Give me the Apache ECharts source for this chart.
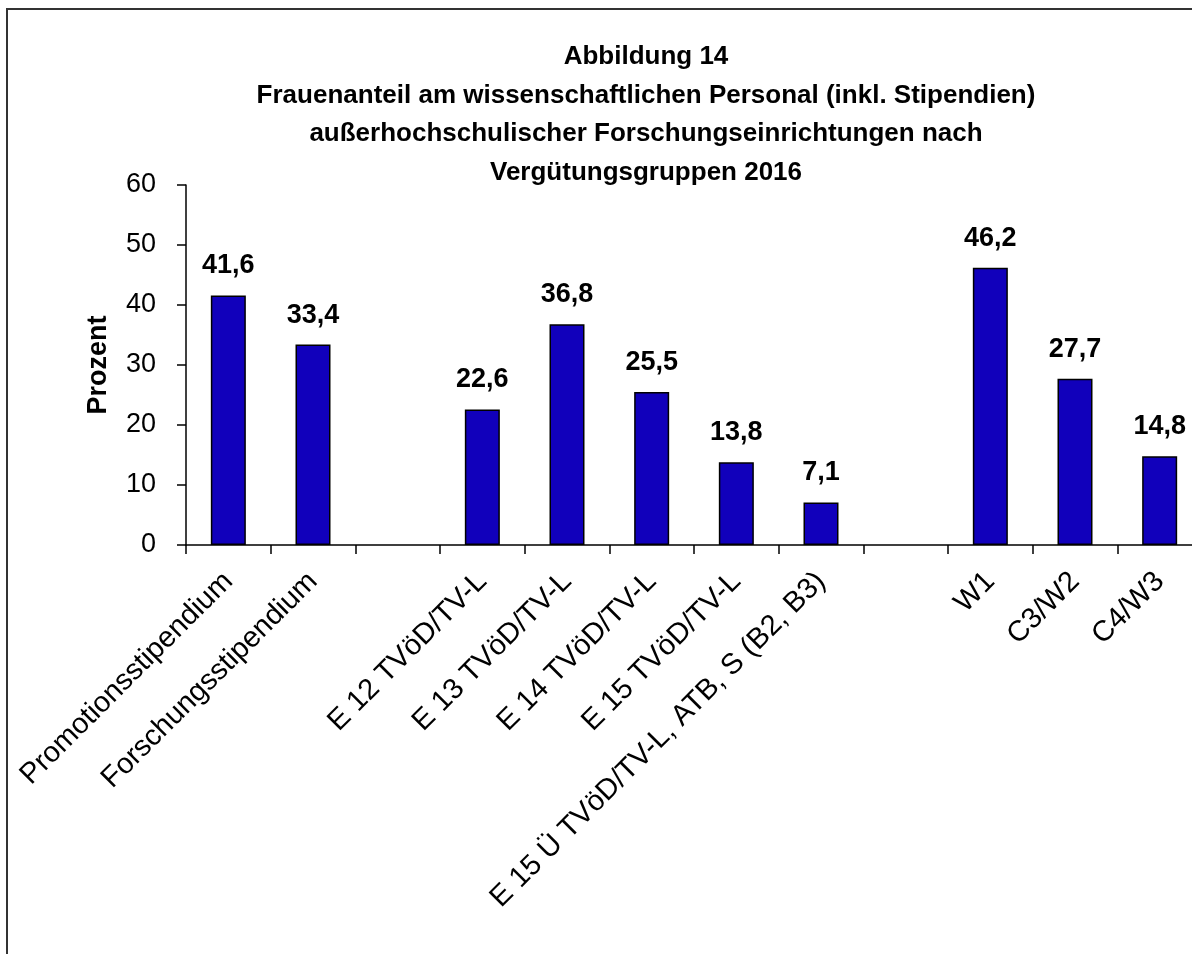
<!DOCTYPE html>
<html>
<head>
<meta charset="utf-8">
<script src="https://cdn.jsdelivr.net/npm/echarts@6/dist/echarts.min.js"></script>
<style>
  html, body { margin: 0; padding: 0; background: #fff; overflow: hidden; width: 1192px; height: 954px; }
  .frame {
    position: absolute;
    left: 6px;
    top: 8px;
    width: 1276px;
    height: 1000px;
    border: 2px solid #333;
    background: #fff;
  }
  .echarts { width: 100%; height: 100%; }
</style>
</head>
<body>
<div class="frame"><div id="chart" class="echarts"></div></div>
<script>
  // Kategorien (leere Einträge = Lücken zwischen den Gruppen)
  const categories = [
    'Promotionsstipendium',
    'Forschungsstipendium',
    '',
    'E 12 TVöD/TV-L',
    'E 13 TVöD/TV-L',
    'E 14 TVöD/TV-L',
    'E 15 TVöD/TV-L',
    'E 15 Ü TVöD/TV-L, ATB, S (B2, B3)',
    '',
    'W1',
    'C3/W2',
    'C4/W3'
  ]
  const values = [41.6, 33.4, null, 22.6, 36.8, 25.5, 13.8, 7.1, null, 46.2, 27.7, 14.8]
  const yTicks = [0, 10, 20, 30, 40, 50, 60]

  const font = '"Liberation Sans", Arial, sans-serif'

  const options = {
    animation: false,
    title: {
      text: 'Abbildung 14\nFrauenanteil am wissenschaftlichen Personal (inkl. Stipendien)\naußerhochschulischer Forschungseinrichtungen nach\nVergütungsgruppen 2016',
      left: 633,
      top: 23,
      textAlign: 'center',
      textStyle: {
        fontFamily: font,
        fontSize: 26,
        fontWeight: 'bold',
        color: '#000',
        lineHeight: 38.5
      }
    },
    grid: {
      left: 178,
      top: 175,
      width: 1016,
      height: 360,
      containLabel: false
    },
    xAxis: {
      type: 'category',
      data: categories,
      axisLine: { lineStyle: { color: '#000', width: 1.5 } },
      axisTick: { show: true, length: 9, lineStyle: { color: '#000', width: 1.5 } },
      axisLabel: {
        interval: 0,
        rotate: 45,
        margin: 32,
        fontFamily: font,
        fontSize: 29,
        color: '#000'
      },
      splitLine: { show: false }
    },
    yAxis: {
      type: 'value',
      min: yTicks[0],
      max: yTicks[yTicks.length - 1],
      interval: 10,
      name: 'Prozent',
      nameLocation: 'middle',
      nameRotate: 90,
      nameGap: 74,
      nameTextStyle: {
        fontFamily: font,
        fontSize: 27,
        fontWeight: 'bold',
        color: '#000'
      },
      axisLine: { show: true, lineStyle: { color: '#000', width: 1.5 } },
      axisTick: { show: true, length: 9, lineStyle: { color: '#000', width: 1.5 } },
      axisLabel: {
        margin: 30,
        fontFamily: font,
        fontSize: 27,
        color: '#000'
      },
      splitLine: { show: false }
    },
    series: [
      {
        type: 'bar',
        data: values,
        barWidth: 35,
        itemStyle: {
          color: '#1100bb',
          borderColor: '#000',
          borderWidth: 1.5
        },
        label: {
          show: true,
          position: 'top',
          distance: 16,
          fontFamily: font,
          fontSize: 27,
          fontWeight: 'bold',
          color: '#000',
          formatter: (p) => p.value == null ? '' : p.value.toFixed(1).replace('.', ',')
        }
      }
    ]
  }

  const chart = echarts.init(document.getElementById('chart'))
  chart.setOption(options)
  window.addEventListener('resize', function () {
    chart && chart.resize()
  })
</script>
</body>
</html>
